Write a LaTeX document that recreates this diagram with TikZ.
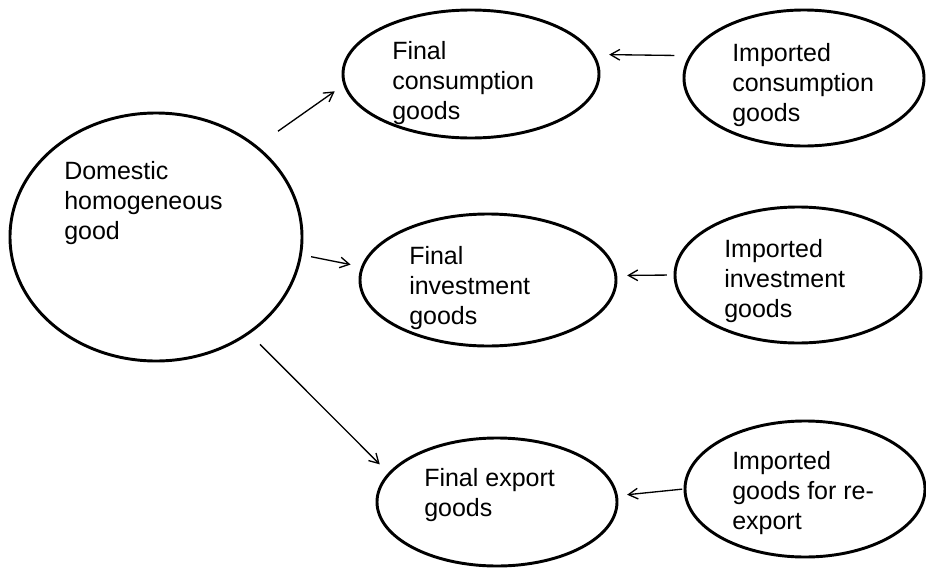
\documentclass[tikz,border=0pt]{standalone}
\usepackage{fontspec}
\setmainfont{Liberation Sans}
\usetikzlibrary{shapes.geometric,arrows.meta}
\begin{document}
\begin{tikzpicture}[x=0.75pt,y=-0.75pt,
  oval/.style={draw, line width=2.2pt, ellipse, inner sep=0pt},
  lbl/.style={anchor=north west, inner sep=0pt, align=left,
    font=\fontsize{18.75pt}{22.5pt}\selectfont},
  arr/.style={-{Straight Barb[length=7pt,width=8pt]}, line width=1pt}]
\useasboundingbox (0,0) rectangle (926,568);
% ellipses
\node[oval, minimum width=219pt, minimum height=186pt] (dom) at (156,237) {};
\node[oval, minimum width=192pt, minimum height=96pt] (fc) at (471,74) {};
\node[oval, minimum width=180pt, minimum height=102pt] (ic) at (804,78) {};
\node[oval, minimum width=192pt, minimum height=99pt] (fi) at (488,280) {};
\node[oval, minimum width=184.5pt, minimum height=102pt] (ii) at (798,275) {};
\node[oval, minimum width=180pt, minimum height=96pt] (fe) at (497,502) {};
\node[oval, minimum width=180pt, minimum height=102pt] (ir) at (805,489) {};
% texts
\node[lbl] (domt) at (64,161) {Domestic\\homogeneous\\good};
\node[lbl] (fct) at (392,41) {Final\\consumption\\goods};
\node[lbl] (ict) at (732,43) {Imported\\consumption\\goods};
\node[lbl] (fit) at (409,246) {Final\\investment\\goods};
\node[lbl] (iit) at (724,239) {Imported\\investment\\goods};
\node[lbl] (fet) at (424,468) {Final export\\goods};
\node[lbl] (irt) at (732,451) {Imported\\goods for re-\\export};
% arrows
\draw[arr, shorten <=19pt, shorten >=8pt] (dom.42) -- (fc.185);
\draw[arr, shorten <=7pt, shorten >=8pt] (dom.-7) -- (fi.174);
\draw[arr, shorten <=11pt, shorten >=9pt] (dom.-46) -- (fe.165);
\draw[arr, shorten <=11pt, shorten >=11pt] (ic.169) -- (fc.9);
\draw[arr, shorten <=5pt, shorten >=7.5pt] (ii.180) -- (fi.2);
\draw[arr, shorten <=1pt, shorten >=7pt] (ir.180) -- (fe.3);
\end{tikzpicture}
\end{document}
